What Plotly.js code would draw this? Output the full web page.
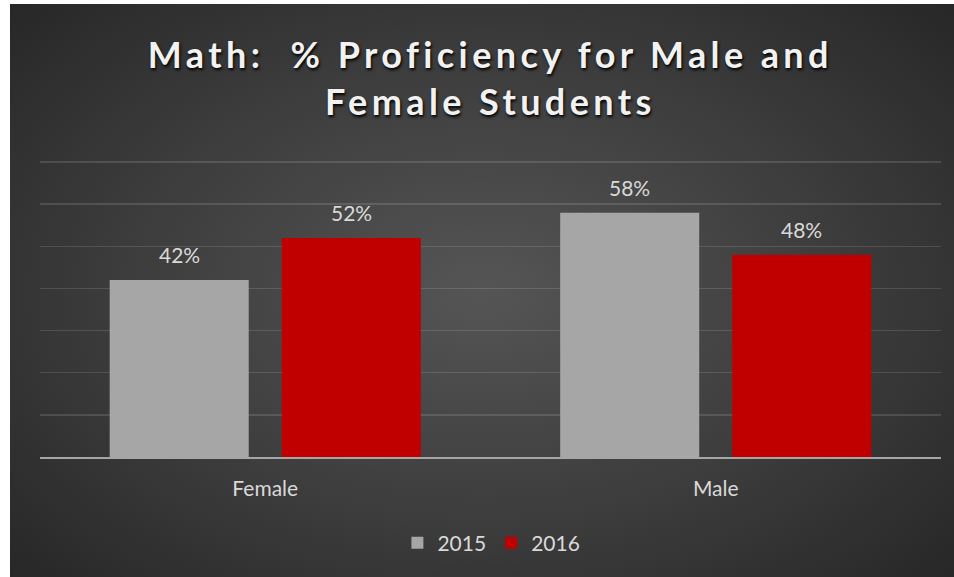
<!DOCTYPE html>
<html>
<head>
<meta charset="utf-8">
<script src="https://cdn.plot.ly/plotly-3.0.1.min.js"></script>
<style>
  html, body { margin: 0; padding: 0; background: #ffffff; }
  #bg { position: absolute; left: 10px; top: 4px; width: 944px; height: 573px;
        background: radial-gradient(ellipse 70% 75% at 50% 50%, #555555 0%, #3c3c3c 55%, #262626 100%); }
  #chart { position: absolute; left: 0; top: 0; width: 954px; height: 577px; }
  .gtitle { letter-spacing: 4.4px; }
</style>
</head>
<body>
<div id="bg"></div>
<div id="chart"></div>
<script>
const categories = ["Female", "Male"];
const years = ["2015", "2016"];
const values2015 = [42, 58];
const values2016 = [52, 48];
const labels2015 = ["42%", "58%"];
const labels2016 = ["52%", "48%"];
const titleText = "Math:  % Proficiency for Male and<br>Female Students";

const labelFont = { family: "Lato, 'Open Sans', sans-serif", size: 21, color: "#d9d9d9" };

const traces = [
  {
    type: "bar", name: years[0], x: categories, y: values2015,
    marker: { color: "#a6a6a6" }, hoverinfo: "none"
  },
  {
    type: "bar", name: years[1], x: categories, y: values2016,
    marker: { color: "#c00000" }, hoverinfo: "none"
  }
];

const annotations = [];
[[values2015, labels2015, -86], [values2016, labels2016, 86]].forEach(([vals, labs, shift]) => {
  categories.forEach((c, i) => {
    annotations.push({
      x: c, y: vals[i], xref: "x", yref: "y", text: labs[i], showarrow: false,
      xanchor: "center", yanchor: "bottom", xshift: shift, yshift: 11,
      font: labelFont
    });
  });
});

const layout = {
  width: 954, height: 577,
  paper_bgcolor: "rgba(0,0,0,0)", plot_bgcolor: "rgba(0,0,0,0)",
  margin: { l: 40, r: 13, t: 160, b: 120 },
  bargap: 0.236, bargroupgap: 0.192,
  title: {
    text: titleText,
    x: 0.514, xanchor: "center", y: 0.882, yanchor: "middle",
    font: { family: "Lato, 'Open Sans', sans-serif", size: 36, color: "#f2f2f2", weight: 700,
            shadow: "1px 2px 3px #000000", lineposition: "none" }
  },
  annotations: annotations,
  xaxis: {
    showgrid: false, showline: true, linecolor: "#a6a6a6", linewidth: 2,
    ticks: "outside", ticklen: 12, tickcolor: "rgba(0,0,0,0)",
    tickfont: labelFont, fixedrange: true
  },
  yaxis: {
    range: [0, 70.5], dtick: 10, showticklabels: false, zeroline: false,
    showgrid: true, gridcolor: "rgba(255,255,255,0.13)", gridwidth: 1.5, fixedrange: true
  },
  showlegend: true,
  legend: {
    orientation: "h", x: 0.501, xanchor: "center", y: -0.29, yanchor: "middle",
    font: labelFont, bgcolor: "rgba(0,0,0,0)", itemwidth: 30, traceorder: "normal"
  }
};

Plotly.newPlot("chart", traces, layout, { displayModeBar: false, staticPlot: true });
</script>
</body>
</html>
